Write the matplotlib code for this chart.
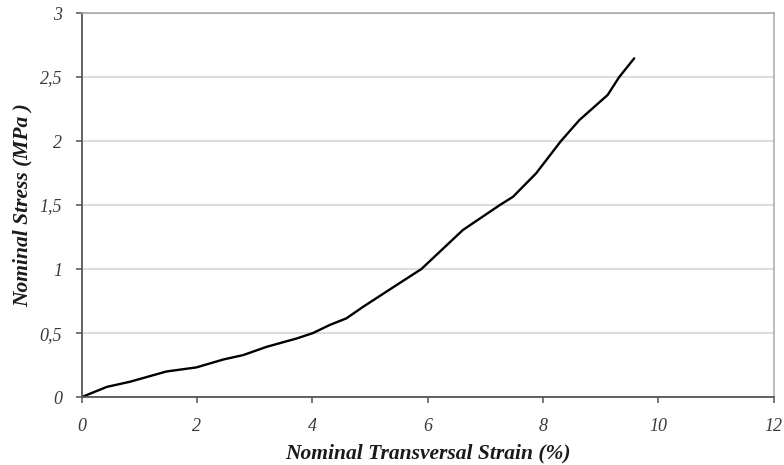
import matplotlib
matplotlib.use("Agg")
import matplotlib.pyplot as plt

strain = [0, 0.44, 0.84, 1.47, 1.99, 2.46, 2.80, 3.21, 3.73, 4.01, 4.30, 4.59, 4.88,
          5.46, 5.89, 6.61, 7.25, 7.48, 7.88, 8.31, 8.63, 8.92, 9.12, 9.32, 9.58]
stress = [0, 0.08, 0.12, 0.20, 0.232, 0.294, 0.328, 0.393, 0.458, 0.50, 0.563, 0.615, 0.705,
          0.875, 1.0, 1.305, 1.5, 1.565, 1.748, 2.0, 2.164, 2.28, 2.36, 2.5, 2.646]

xticks = [0, 2, 4, 6, 8, 10, 12]
xtick_labels = ["0", "2", "4", "6", "8", "10", "12"]
yticks = [0, 0.5, 1, 1.5, 2, 2.5, 3]
ytick_labels = ["0", "0,5", "1", "1,5", "2", "2,5", "3"]

xlabel = "Nominal Transversal Strain (%)"
ylabel = "Nominal Stress (MPa )"

fig = plt.figure(figsize=(7.84, 4.65), dpi=100)
ax = fig.add_axes([0.104, 0.146, 0.883, 0.826])

ax.plot(strain, stress, color="black", linewidth=1.7, solid_capstyle="round",
        solid_joinstyle="round")

ax.set_xlim(0, 12)
ax.set_ylim(0, 3)
ax.set_xticks(xticks)
ax.set_xticklabels(xtick_labels)
ax.set_yticks(yticks)
ax.set_yticklabels(ytick_labels)

ax.yaxis.grid(True, color="#dcdcdc", linewidth=1.5)
ax.set_axisbelow(True)

for s in ("left", "bottom"):
    ax.spines[s].set_color("#555555")
    ax.spines[s].set_linewidth(1.3)
ax.spines["top"].set_color("#a8a8a8")
ax.spines["top"].set_linewidth(1.2)
ax.spines["right"].set_color("#b0b0b0")
ax.spines["right"].set_linewidth(1.2)

ax.tick_params(direction="out", length=4, width=1.1, color="#555555")
ax.tick_params(axis="x", pad=11)
ax.tick_params(axis="y", pad=10)
for lab in ax.get_xticklabels() + ax.get_yticklabels():
    lab.set_fontfamily("Liberation Serif")
    lab.set_fontstyle("italic")
    lab.set_fontsize(13)
    lab.set_color("#3a3a3a")

ax.set_xlabel(xlabel, fontfamily="Liberation Serif", fontstyle="italic",
              fontweight="bold", fontsize=15.5, color="#1a1a1a", labelpad=6)
ax.set_ylabel(ylabel, fontfamily="Liberation Serif", fontstyle="italic",
              fontweight="bold", fontsize=15.5, color="#1a1a1a", labelpad=5)

fig.savefig("out.png", dpi=100)
